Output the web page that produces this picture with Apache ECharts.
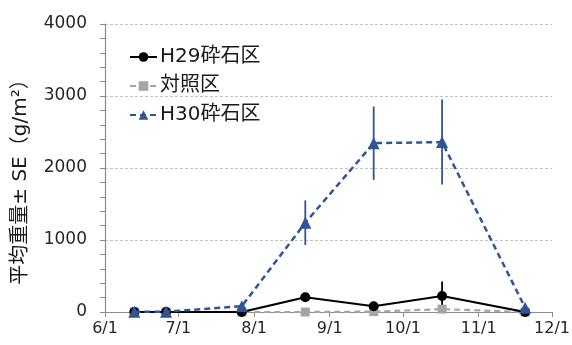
<!DOCTYPE html>
<html>
<head>
<meta charset="utf-8">
<script src="https://cdn.jsdelivr.net/npm/echarts@6/dist/echarts.min.js"></script>
<style>
  html, body { margin: 0; padding: 0; background: #fff; }
  #chart { width: 572px; height: 345px; }
</style>
</head>
<body>
<div id="chart"></div>
<script>
// Survey dates (2018) and mean weight per plot with standard error
const surveyDates = ['2018-06-13', '2018-06-26', '2018-07-27', '2018-08-22', '2018-09-19', '2018-10-17', '2018-11-20'];
const h29Values  = [0, 0, 0, 205, 80, 222, 0];
const h29Se      = [0, 0, 0, 0, 0, 200, 0];
const ctrlValues = [0, 0, 0, 0, 5, 40, 0];
const ctrlSe     = [0, 0, 0, 0, 0, 0, 0];
const h30Values  = [5, 5, 80, 1240, 2345, 2360, 60];
const h30Se      = [0, 0, 0, 310, 510, 590, 0];
const seriesNames = ['H29砕石区', '対照区', 'H30砕石区'];
const yTicks = { min: 0, max: 4000, interval: 1000 };

const FONT = "'DejaVu Sans', 'Noto Sans CJK JP', sans-serif";
const C_H29 = '#000000';
const C_CTRL = '#a5a5a5';
const C_H30 = '#2f5597';

function pairs(vals) {
  return surveyDates.map((d, i) => [d, vals[i]]);
}
function errorData(vals, se) {
  return surveyDates.map((d, i) => [d, vals[i] - se[i], vals[i] + se[i]]);
}
function errorSeries(vals, se, color, name) {
  return {
    type: 'custom',
    name: name + '_se',
    silent: true,
    z: 1,
    data: errorData(vals, se),
    renderItem: function (params, api) {
      const lo = api.coord([api.value(0), api.value(1)]);
      const hi = api.coord([api.value(0), api.value(2)]);
      return {
        type: 'line',
        shape: { x1: lo[0], y1: lo[1], x2: hi[0], y2: hi[1] },
        style: { stroke: color, lineWidth: 1.8 }
      };
    }
  };
}

const chart = echarts.init(document.getElementById('chart'), null, { renderer: 'canvas' });
chart.setOption({
  animation: false,
  backgroundColor: '#ffffff',
  grid: { left: 105, right: 20, top: 24, bottom: 33, containLabel: false, outerBoundsMode: 'none' },
  legend: {
    orient: 'vertical',
    left: 124,
    top: 42,
    itemGap: 9,
    itemWidth: 27,
    itemHeight: 12,
    data: seriesNames,
    textStyle: { fontFamily: FONT, fontSize: 20, color: '#1a1a1a', padding: [0, 0, 0, -2] }
  },
  xAxis: {
    type: 'time',
    min: '2018-06-01',
    max: '2018-12-01',
    splitNumber: 6,
    minInterval: 28 * 86400000,
    axisLine: { lineStyle: { color: '#8c8c8c', width: 1.2 } },
    axisTick: { show: true, length: 5, lineStyle: { color: '#8c8c8c' } },
    splitLine: { show: false },
    axisLabel: {
      fontFamily: FONT, fontSize: 16, color: '#262626', margin: 9,
      showMinLabel: true, showMaxLabel: true,
      formatter: function (v) {
        const d = new Date(v);
        return (d.getMonth() + 1) + '/' + d.getDate();
      }
    }
  },
  yAxis: {
    type: 'value',
    min: yTicks.min,
    max: yTicks.max,
    interval: yTicks.interval,
    name: '平均重量± SE（g/m²）',
    nameLocation: 'middle',
    nameGap: 74,
    nameRotate: 90,
    nameTextStyle: { fontFamily: FONT, fontSize: 20, color: '#1a1a1a', padding: [0, 18, 0, 0] },
    axisLine: { show: true, lineStyle: { color: '#8c8c8c', width: 1.2 } },
    axisTick: { show: true, length: 5, lineStyle: { color: '#8c8c8c' } },
    minorTick: { show: true, splitNumber: 5, length: 5, lineStyle: { color: '#8c8c8c' } },
    splitLine: { show: true, lineStyle: { color: '#c0c0c0', type: [3, 2], width: 1 } },
    axisLabel: {
      fontFamily: FONT, fontSize: 17, color: '#262626', margin: 18,
      formatter: function (v) { return String(v); }
    }
  },
  series: [
    errorSeries(h29Values, h29Se, C_H29, seriesNames[0]),
    errorSeries(ctrlValues, ctrlSe, C_CTRL, seriesNames[1]),
    errorSeries(h30Values, h30Se, C_H30, seriesNames[2]),
    {
      name: seriesNames[0], type: 'line', z: 4,
      data: pairs(h29Values),
      symbol: 'circle', symbolSize: 10,
      itemStyle: { color: C_H29 },
      lineStyle: { color: C_H29, width: 2.2, type: 'solid' }
    },
    {
      name: seriesNames[1], type: 'line', z: 3,
      data: pairs(ctrlValues),
      symbol: 'rect', symbolSize: 9,
      itemStyle: { color: C_CTRL },
      lineStyle: { color: C_CTRL, width: 2.2, type: [6, 4] }
    },
    {
      name: seriesNames[2], type: 'line', z: 5,
      data: pairs(h30Values),
      symbol: 'triangle', symbolSize: 12,
      itemStyle: { color: C_H30 },
      lineStyle: { color: C_H30, width: 2.5, type: [6, 4] }
    }
  ]
});
</script>
</body>
</html>
